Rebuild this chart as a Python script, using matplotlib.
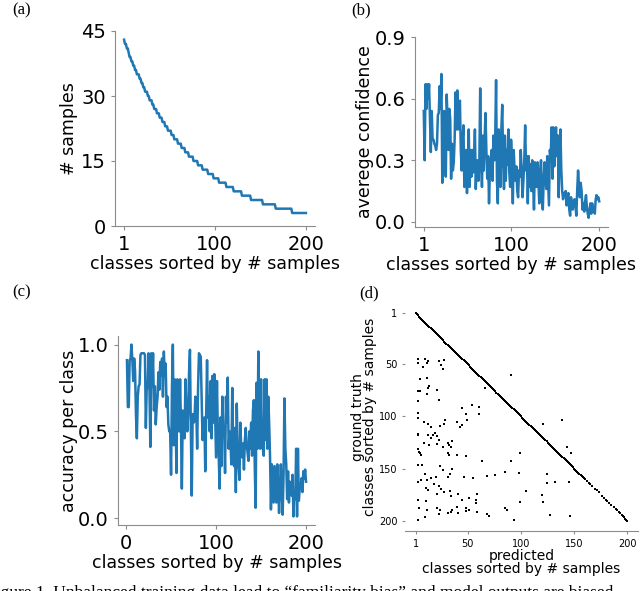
import numpy as np
import matplotlib.pyplot as plt

# (a) number of samples per class, as runs of equal values
sample_levels = [43, 42, 41, 40, 39, 38, 37, 36, 35, 34, 33, 32, 31, 30, 29, 28, 27,
                 26, 25, 24, 23, 22, 21, 20, 19, 18, 17, 16, 15, 14, 13, 12, 11, 10,
                 9, 8, 7, 6, 5, 4, 3]
sample_runs = [1, 2, 2, 1, 2, 2, 2, 2, 3, 2, 2, 2, 3, 2, 3, 2, 3, 3, 3, 3, 3, 4, 3,
               4, 4, 4, 4, 5, 5, 5, 6, 6, 6, 8, 8, 9, 10, 13, 14, 18, 16]

# (b) average confidence per class
avg_conf = [
    0.54, 0.30, 0.67, 0.55, 0.67, 0.60, 0.67, 0.50, 0.34, 0.54,
    0.40, 0.40, 0.38, 0.37, 0.35, 0.38, 0.52, 0.53, 0.66, 0.55,
    0.72, 0.19, 0.45, 0.54, 0.30, 0.22, 0.62, 0.50, 0.35, 0.55,
    0.50, 0.21, 0.38, 0.25, 0.29, 0.40, 0.63, 0.45, 0.64, 0.45,
    0.55, 0.59, 0.35, 0.25, 0.40, 0.47, 0.17, 0.30, 0.35, 0.14,
    0.30, 0.45, 0.17, 0.35, 0.22, 0.35, 0.24, 0.30, 0.45, 0.16,
    0.29, 0.30, 0.20, 0.28, 0.65, 0.30, 0.17, 0.42, 0.25, 0.40,
    0.53, 0.35, 0.21, 0.32, 0.09, 0.25, 0.29, 0.35, 0.20, 0.42,
    0.30, 0.40, 0.69, 0.20, 0.09, 0.45, 0.30, 0.17, 0.45, 0.57,
    0.30, 0.16, 0.42, 0.20, 0.35, 0.28, 0.45, 0.24, 0.17, 0.40,
    0.30, 0.09, 0.35, 0.25, 0.20, 0.27, 0.15, 0.12, 0.25, 0.22,
    0.35, 0.25, 0.12, 0.20, 0.30, 0.47, 0.25, 0.32, 0.09, 0.32,
    0.17, 0.28, 0.15, 0.30, 0.20, 0.06, 0.29, 0.20, 0.17, 0.29,
    0.20, 0.09, 0.25, 0.30, 0.14, 0.06, 0.20, 0.29, 0.22, 0.16,
    0.32, 0.20, 0.08, 0.35, 0.32, 0.46, 0.21, 0.46, 0.27, 0.38,
    0.46, 0.32, 0.42, 0.12, 0.35, 0.45, 0.25, 0.15, 0.11, 0.14,
    0.13, 0.15, 0.08, 0.12, 0.14, 0.06, 0.03, 0.12, 0.09, 0.06,
    0.10, 0.11, 0.08, 0.03, 0.15, 0.25, 0.18, 0.12, 0.19, 0.15,
    0.06, 0.09, 0.05, 0.10, 0.13, 0.07, 0.04, 0.02, 0.06, 0.09,
    0.04, 0.09, 0.05, 0.07, 0.04, 0.11, 0.13, 0.11, 0.12, 0.10,
]

# (c) accuracy per class
acc = [
    0.91, 0.64, 0.64, 0.91, 0.92, 1.00, 0.91, 0.79, 0.92, 0.85,
    0.60, 0.46, 0.70, 0.76, 0.77, 0.94, 0.95, 0.95, 0.95, 0.95,
    0.94, 0.52, 0.76, 0.75, 0.95, 0.75, 0.41, 0.95, 0.76, 0.95,
    0.62, 0.76, 0.54, 0.64, 0.70, 0.84, 0.74, 0.90, 0.82, 0.92,
    0.70, 0.96, 0.82, 0.89, 0.64, 0.70, 0.54, 0.50, 0.50, 0.25,
    0.75, 1.00, 0.42, 0.80, 0.60, 0.26, 0.80, 0.64, 0.50, 0.80,
    0.54, 0.17, 0.62, 0.50, 0.46, 0.80, 0.60, 0.50, 0.60, 0.84,
    0.97, 0.50, 0.13, 0.60, 0.55, 0.56, 0.70, 0.62, 0.40, 0.75,
    0.95, 0.94, 0.93, 0.70, 0.45, 0.55, 0.58, 0.27, 0.60, 0.91,
    0.58, 0.70, 0.50, 0.79, 0.46, 0.82, 0.55, 0.83, 0.60, 0.35,
    0.79, 0.50, 0.35, 0.17, 0.58, 0.30, 0.70, 0.50, 0.52, 0.26,
    0.70, 0.55, 0.81, 0.40, 0.50, 0.45, 0.31, 0.75, 0.35, 0.30,
    0.52, 0.15, 0.66, 0.40, 0.30, 0.22, 0.55, 0.40, 0.35, 0.43,
    0.28, 0.45, 0.52, 0.42, 0.38, 0.33, 0.50, 0.40, 0.55, 0.36,
    0.62, 0.68, 0.30, 0.06, 0.78, 0.40, 0.96, 0.55, 0.40, 0.80,
    0.45, 0.40, 0.36, 0.80, 0.45, 0.80, 0.40, 0.70, 0.55, 0.35,
    0.05, 0.31, 0.20, 0.09, 0.30, 0.19, 0.09, 0.31, 0.20, 0.03,
    0.17, 0.31, 0.15, 0.02, 0.25, 0.69, 0.40, 0.31, 0.11, 0.27,
    0.09, 0.21, 0.15, 0.13, 0.25, 0.01, 0.15, 0.11, 0.40, 0.01,
    0.40, 0.10, 0.17, 0.18, 0.23, 0.15, 0.27, 0.23, 0.28, 0.21,
]

# (d) confusion: classes predicted correctly (diagonal) and off-diagonal errors
diag_tail = [162, 164, 165, 167, 170, 171, 173, 176, 178, 180, 181, 183, 185,
             187, 189, 190, 192, 193, 195, 196, 197, 198, 199, 200]
err_pred = [3, 3, 10, 8, 12, 13, 23, 25, 28, 27, 5, 12, 3, 5, 13, 14, 12, 21, 3, 23,
            3, 3, 48, 45, 54, 61, 61, 66, 91, 9, 13, 15, 24, 29, 28, 40, 43, 45, 49,
            3, 3, 13, 17, 19, 15, 21, 23, 9, 14, 21, 31, 32, 35, 27, 34, 3, 4, 5, 6,
            31, 32, 40, 48, 63, 91, 99, 121, 139, 143, 147, 3, 7, 10, 12, 15, 20, 24,
            27, 31, 33, 35, 46, 55, 68, 76, 85, 98, 124, 132, 3, 6, 11, 13, 18, 23,
            21, 25, 28, 33, 34, 41, 45, 51, 58, 58, 59, 48, 51, 40, 35, 31, 24, 21,
            12, 4, 3, 11, 99, 105, 121, 124, 145, 120, 3, 10, 23, 34, 41, 48, 59, 68,
            70, 85, 87, 93, 127, 146]
err_true = [45, 49, 45, 52, 49, 47, 47, 51, 46, 54, 64, 63, 76, 76, 73, 71, 78, 75,
            85, 84, 97, 101, 98, 92, 89, 91, 98, 73, 60, 105, 107, 110, 109, 103, 107,
            105, 110, 108, 103, 117, 118, 118, 118, 116, 121, 119, 123, 125, 127, 126,
            125, 127, 124, 129, 129, 131, 134, 135, 137, 135, 137, 137, 138, 143, 143,
            135, 107, 103, 129, 135, 147, 147, 155, 161, 159, 158, 148, 151, 158, 155,
            150, 158, 159, 157, 156, 153, 154, 155, 163, 163, 161, 169, 171, 165, 167,
            174, 170, 173, 172, 176, 174, 180, 178, 180, 183, 174, 188, 190, 187, 190,
            193, 190, 188, 190, 188, 180, 181, 182, 172, 182, 164, 163, 175, 199, 197,
            194, 192, 193, 191, 192, 194, 196, 188, 190, 199, 195, 196]

classes = np.arange(1, 201)
n_samples = np.repeat(sample_levels, sample_runs)
diag = np.concatenate([np.arange(1, 161), diag_tail])

blue = '#1f77b4'
spine_c = '#8c8c8c'

fig = plt.figure(figsize=(6.4, 5.91), dpi=100)


def style(ax, fs=14):
    for s in ['top', 'right']:
        ax.spines[s].set_visible(False)
    for s in ['left', 'bottom']:
        ax.spines[s].set_color(spine_c)
    ax.tick_params(colors=spine_c, labelcolor='black', labelsize=fs, length=3)


ax1 = fig.add_axes([115/640, 1 - 226/591, 200/640, 195/591])
ax1.plot(classes, n_samples, color=blue, lw=1.8)
ax1.set_ylim(0, 45)
ax1.set_xticks([1, 100, 200])
ax1.set_yticks([0, 15, 30, 45])
ax1.set_xlabel('classes sorted by # samples', fontsize=12.5, labelpad=1)
ax1.set_ylabel('# samples', fontsize=12.5, labelpad=2)
style(ax1)

ax2 = fig.add_axes([415/640, 1 - 227/591, 193/640, 190/591])
ax2.plot(classes, avg_conf, color=blue, lw=1.8)
ax2.set_ylim(-0.025, 0.9)
ax2.set_xticks([1, 100, 200])
ax2.set_yticks([0.0, 0.3, 0.6, 0.9])
ax2.set_xlabel('classes sorted by # samples', fontsize=12.5, labelpad=1)
ax2.set_ylabel('averege confidence', fontsize=12.5, labelpad=1)
style(ax2)

ax3 = fig.add_axes([118/640, 1 - 525/591, 197/640, 189/591])
ax3.plot(classes, acc, color=blue, lw=1.8)
ax3.set_xticks([0, 100, 200])
ax3.set_yticks([0.0, 0.5, 1.0])
ax3.set_xlabel('classes sorted by # samples', fontsize=12.5, labelpad=1)
ax3.set_ylabel('accuracy per class', fontsize=12.5, labelpad=0)
style(ax3)

ax4 = fig.add_axes([405/640, 1 - 531/591, 233/640, 228/591])
ax4.scatter(diag, diag, s=2.2, marker='s', color='black', linewidths=0)
ax4.scatter(err_pred, err_true, s=2.2, marker='s', color='black', linewidths=0)
ax4.set_xlim(-9, 210)
ax4.set_ylim(210, -9)
ax4.set_xticks([1, 50, 100, 150, 200])
ax4.set_yticks([1, 50, 100, 150, 200])
ax4.set_xlabel('predicted\nclasses sorted by # samples', fontsize=10, labelpad=0,
               linespacing=0.9)
ax4.set_ylabel('ground truth\nclasses sorted by # samples', fontsize=10, labelpad=1,
               linespacing=0.9)
for s in ['top', 'right', 'left']:
    ax4.spines[s].set_visible(False)
ax4.spines['bottom'].set_color(spine_c)
ax4.tick_params(colors=spine_c, labelcolor='black', labelsize=7, length=2)

serif = ['Liberation Serif', 'DejaVu Serif']
for lbl, x, y in [('(a)', 12, 10), ('(b)', 351, 10), ('(c)', 12, 292), ('(d)', 359, 293)]:
    fig.text(x/640, 1 - y/591, lbl, family=serif, fontsize=12, va='center', ha='left')

fig.text(-14/640, -6/591,
         'Figure 1. Unbalanced training data lead to \u201cfamiliarity bias\u201d and model outputs are biased',
         family=serif, fontsize=12.5, va='baseline', ha='left')

fig.savefig('out.png', dpi=100)
